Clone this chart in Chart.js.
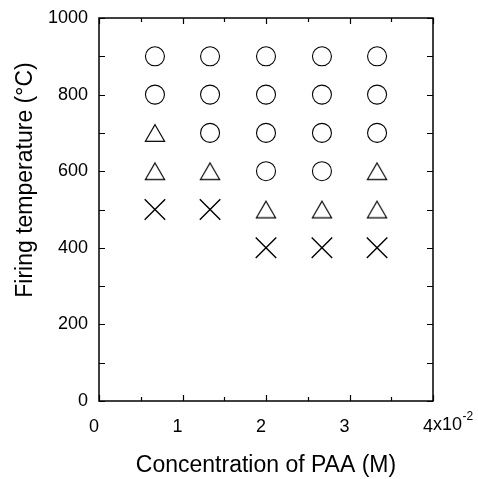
<!DOCTYPE html>
<html>
<head>
<meta charset="utf-8">
<script src="https://cdn.jsdelivr.net/npm/chart.js@4"></script>
<style>
  html, body { margin: 0; padding: 0; background: #fff; }
  #wrap { width: 478px; height: 479px; }
</style>
</head>
<body>
<div id="wrap"><canvas id="c" width="478" height="479"></canvas></div>
<script>
// ---- Data ----
const circleConc = [0.67, 0.67, 1.33, 1.33, 1.33, 2.0, 2.0, 2.0, 2.0, 2.67, 2.67, 2.67, 2.67, 3.33, 3.33, 3.33];
const circleTemp = [900, 800, 900, 800, 700, 900, 800, 700, 600, 900, 800, 700, 600, 900, 800, 700];
const triangleConc = [0.67, 0.67, 1.33, 2.0, 2.67, 3.33, 3.33];
const triangleTemp = [700, 600, 600, 500, 500, 600, 500];
const crossConc = [0.67, 1.33, 2.0, 2.67, 3.33];
const crossTemp = [500, 500, 400, 400, 400];
const xTickLabels = ['0', '1', '2', '3', '4'];
const xExponentText = ['x10', '-2'];
const xTitle = 'Concentration of PAA (M)';
const yTitle = 'Firing temperature (\u00B0C)';

const FONT = "'Liberation Sans', Arial, Helvetica, sans-serif";
Chart.defaults.font.family = FONT;
Chart.defaults.color = '#000';

function pts(xs, ys) { return xs.map((x, i) => ({ x: x, y: ys[i] })); }

// triangle marker image (bounding box centred on the point)
function triangleImage() {
  const w = 22, h = 20;
  const cv = document.createElement('canvas');
  cv.width = w; cv.height = h;
  const g = cv.getContext('2d');
  g.strokeStyle = '#000';
  g.lineWidth = 1.2;
  g.beginPath();
  g.moveTo(w / 2, h / 2 - 8.3);
  g.lineTo(w / 2 + 9.6, h / 2 + 8.3);
  g.lineTo(w / 2 - 9.6, h / 2 + 8.3);
  g.closePath();
  g.stroke();
  return cv;
}

const framePlugin = {
  id: 'frame',
  afterDraw(chart) {
    const ctx = chart.ctx;
    const a = chart.chartArea;
    const xs = chart.scales.x, ys = chart.scales.y;
    ctx.save();
    ctx.strokeStyle = '#000';
    ctx.lineWidth = 1.5;
    ctx.strokeRect(a.left, a.top, a.right - a.left, a.bottom - a.top);
    ctx.lineWidth = 1.2;
    ctx.beginPath();
    for (let v = 0; v <= 4.0001; v += 0.5) {
      const px = Math.round(xs.getPixelForValue(v)) + 0.5;
      const major = Math.abs(v - Math.round(v)) < 1e-6;
      const len = major ? 6 : 4;
      ctx.moveTo(px, a.bottom); ctx.lineTo(px, a.bottom - len);
      ctx.moveTo(px, a.top); ctx.lineTo(px, a.top + len);
    }
    for (let v = 0; v <= 1000; v += 100) {
      const py = Math.round(ys.getPixelForValue(v)) + 0.5;
      const len = 6;
      ctx.moveTo(a.left, py); ctx.lineTo(a.left + len, py);
      ctx.moveTo(a.right, py); ctx.lineTo(a.right - len, py);
    }
    ctx.stroke();

    // exponent after the last x tick label
    ctx.fillStyle = '#000';
    ctx.font = '18px ' + FONT;
    ctx.textBaseline = 'middle';
    ctx.textAlign = 'left';
    const p4 = xs.getPixelForValue(4) - 5;
    const w4 = ctx.measureText('4').width;
    const sx = p4 + w4 / 2;
    ctx.fillText(xExponentText[0], sx, 425);
    const wx = ctx.measureText(xExponentText[0]).width;
    ctx.font = '12px ' + FONT;
    ctx.fillText(xExponentText[1], sx + wx + 0.5, 417);

    // y axis title (placed as in the reference)
    ctx.font = '23px ' + FONT;
    ctx.textAlign = 'center';
    ctx.textBaseline = 'middle';
    ctx.translate(26, 180);
    ctx.rotate(-Math.PI / 2);
    ctx.fillText(yTitle, 0, 0);
    ctx.restore();
  }
};

new Chart(document.getElementById('c'), {
  type: 'scatter',
  data: {
    datasets: [
      { label: 'circle', data: pts(circleConc, circleTemp), pointStyle: 'circle', pointRadius: 9.5,
        borderColor: '#000', backgroundColor: 'rgba(0,0,0,0)', borderWidth: 1.1 },
      { label: 'triangle', data: pts(triangleConc, triangleTemp), pointStyle: triangleImage(), pointRadius: 11,
        borderColor: '#000', backgroundColor: 'rgba(0,0,0,0)', borderWidth: 1.2 },
      { label: 'cross', data: pts(crossConc, crossTemp), pointStyle: 'crossRot', pointRadius: 14.5,
        borderColor: '#000', backgroundColor: 'rgba(0,0,0,0)', borderWidth: 1.4 }
    ]
  },
  options: {
    responsive: false,
    animation: false,
    events: [],
    layout: { padding: { top: 18, right: 45, left: 0, bottom: 0 } },
    plugins: { legend: { display: false }, tooltip: { enabled: false } },
    scales: {
      x: {
        type: 'linear', min: 0, max: 4,
        grid: { display: false, drawTicks: false },
        border: { display: false },
        ticks: {
          stepSize: 1, padding: 15, labelOffset: -5,
          font: { size: 18 }, color: '#000',
          callback: (v) => xTickLabels[v] !== undefined ? xTickLabels[v] : ''
        },
        title: { display: true, text: xTitle, font: { size: 23 }, color: '#000', padding: { top: 12, bottom: 0 } },
        afterFit: (s) => { s.height = 78; s.paddingLeft = 0; s.paddingRight = 0; }
      },
      y: {
        type: 'linear', min: 0, max: 1000,
        grid: { display: false, drawTicks: false },
        border: { display: false },
        ticks: { stepSize: 200, padding: 11, font: { size: 18 }, color: '#000',
          callback: (v) => String(v) },
        afterFit: (s) => { s.width = 99; s.paddingTop = 0; s.paddingBottom = 0; }
      }
    }
  },
  plugins: [framePlugin]
});
</script>
</body>
</html>
